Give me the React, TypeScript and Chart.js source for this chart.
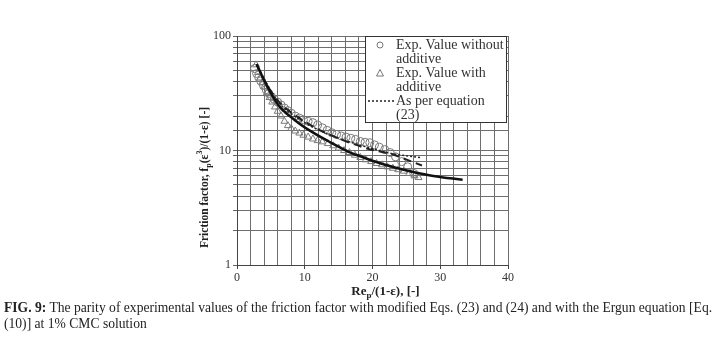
import React, { useEffect, useRef } from "react";
import { Chart, registerables } from "chart.js";

Chart.register(...registerables);

// ---- data ----
const circleX = [2.6, 2.9, 3.2, 3.5, 3.9, 4.3, 4.7, 5.1, 5.5, 6.0, 6.5, 7.0, 7.5, 8.0, 8.6, 9.2, 9.8, 10.5, 11.2, 11.9, 12.6, 13.3, 14.0, 14.7, 15.4, 16.1, 16.8, 17.5, 18.2, 18.9, 19.6, 20.3, 21.0, 21.8, 22.6, 23.4, 24.3, 25.2, 26.1];
const circleY = [52, 47, 43.5, 40.5, 37, 34, 31.5, 29.5, 28, 26.5, 25, 23.5, 22.3, 21.2, 20, 19.2, 18.6, 18, 17.5, 16.7, 15.8, 15.0, 14.3, 13.8, 13.4, 13.1, 12.8, 12.5, 12.0, 11.8, 11.7, 11.2, 10.7, 10.2, 9.6, 8.8, 8.0, 7.2, 6.3];

const triangleX = [2.8, 3.1, 3.4, 3.7, 4.0, 4.4, 4.8, 5.2, 5.6, 6.0, 6.5, 7.0, 7.5, 8.0, 8.6, 9.2, 9.8, 10.5, 11.2, 11.9, 12.6, 13.4, 14.2, 15.0, 15.8, 16.6, 17.4, 18.2, 19.0, 19.8, 20.6, 21.4, 22.2, 23.0, 23.8, 24.6, 25.4, 26.2, 26.8];
const triangleY = [56, 48, 43, 39, 36, 32, 29, 26.5, 24, 22, 20, 18, 16.5, 15.6, 14.8, 14.2, 13.6, 13.1, 12.6, 12.2, 11.9, 11.5, 11.0, 10.5, 10.0, 9.6, 9.1, 8.7, 8.3, 8.0, 7.7, 7.5, 7.2, 7.0, 6.8, 6.6, 6.3, 6.0, 5.8];

const solidX = [2.9, 4.1, 6.1, 8.5, 11, 14, 16.9, 18.2, 20.1, 23.3, 26, 29, 33.3];
const solidY = [57, 40, 25, 18.5, 14.6, 11.6, 9.5, 8.9, 8.1, 7.1, 6.5, 6.0, 5.55];

const dashedX = [2.9, 4, 6.1, 8, 11, 14, 17, 20.3, 22.6, 24.4, 27.3];
const dashedY = [56, 41, 27, 21.5, 16.5, 13.5, 11.5, 10.0, 9.4, 8.6, 7.4];

const dottedX = [2.9, 6, 10, 14, 18, 20, 22.6, 25, 27.3];
const dottedY = [56, 27, 17.5, 13.5, 11.2, 10.4, 9.45, 9.0, 8.66];

const xTickLabels = [0, 10, 20, 30, 40];
const yTickLabels = [1, 10, 100];

const legendRows = [
  ["Exp. Value without", "additive"],
  ["Exp. Value with", "additive"],
  ["As per equation", "(23)"],
];

const captionBold = "FIG. 9:";
const captionText =
  " The parity of experimental values of the friction factor with modified Eqs. (23) and (24) and with the Ergun equation [Eq. (10)] at 1% CMC solution";

const SERIF = '"Liberation Serif", "Times New Roman", serif';

type Seg = { t: string; k: "n" | "sub" | "sup" };

const yTitle: Seg[] = [
  { t: "Friction factor, f", k: "n" },
  { t: "p", k: "sub" },
  { t: "(ε", k: "n" },
  { t: "3", k: "sup" },
  { t: ")/(1-ε) [-]", k: "n" },
];
const xTitle: Seg[] = [
  { t: "Re", k: "n" },
  { t: "p", k: "sub" },
  { t: "/(1-ε), [-]", k: "n" },
];

const pts = (xs: number[], ys: number[]) => xs.map((x, i) => ({ x, y: ys[i] }));

function richWidth(ctx: CanvasRenderingContext2D, segs: Seg[], size: number) {
  let w = 0;
  for (const s of segs) {
    const fs = s.k === "n" ? size : Math.round(size * 0.72);
    ctx.font = `bold ${fs}px ${SERIF}`;
    w += ctx.measureText(s.t).width;
  }
  return w;
}
function richDraw(ctx: CanvasRenderingContext2D, segs: Seg[], size: number, x: number, y: number) {
  let cx = x;
  for (const s of segs) {
    const fs = s.k === "n" ? size : Math.round(size * 0.72);
    ctx.font = `bold ${fs}px ${SERIF}`;
    const dy = s.k === "sub" ? size * 0.3 : s.k === "sup" ? -size * 0.4 : 0;
    ctx.fillText(s.t, cx, y + dy);
    cx += ctx.measureText(s.t).width;
  }
}

const decor = {
  id: "decor",
  afterDraw(chart: any) {
    const ctx: CanvasRenderingContext2D = chart.ctx;
    const ca = chart.chartArea;
    ctx.save();
    ctx.fillStyle = "#222";
    ctx.textBaseline = "middle";
    ctx.textAlign = "left";

    // x title
    const xs = 13;
    const xw = richWidth(ctx, xTitle, xs);
    richDraw(ctx, xTitle, xs, (ca.left + ca.right) / 2 + 13 - xw / 2, ca.bottom + 27);

    // y title (rotated)
    const ys = 11.5;
    const yw = richWidth(ctx, yTitle, ys);
    ctx.save();
    ctx.translate(ca.left - 32, (ca.top + ca.bottom) / 2 + 27);
    ctx.rotate(-Math.PI / 2);
    richDraw(ctx, yTitle, ys, -yw / 2, 0);
    ctx.restore();

    // legend box
    const lw = 141;
    const lh = 86;
    const lx = ca.right - 143;
    const ly = ca.top;
    ctx.fillStyle = "#fff";
    ctx.fillRect(lx, ly, lw, lh);
    ctx.font = `14px ${SERIF}`;
    const tx = lx + 31;
    const mx = lx + 15;
    legendRows.forEach((row, i) => {
      const y0 = ly + 9 + i * 28;
      ctx.fillStyle = "#333";
      ctx.fillText(row[0], tx, y0);
      ctx.fillText(row[1], tx, y0 + 14);
      ctx.strokeStyle = "#777";
      ctx.lineWidth = 1;
      ctx.setLineDash([]);
      if (i === 0) {
        ctx.beginPath();
        ctx.arc(mx, y0, 3, 0, Math.PI * 2);
        ctx.stroke();
      } else if (i === 1) {
        ctx.beginPath();
        ctx.moveTo(mx, y0 - 3.5);
        ctx.lineTo(mx + 3.5, y0 + 3);
        ctx.lineTo(mx - 3.5, y0 + 3);
        ctx.closePath();
        ctx.stroke();
      } else {
        ctx.strokeStyle = "#222";
        ctx.lineWidth = 1.5;
        ctx.setLineDash([2, 2]);
        ctx.beginPath();
        ctx.moveTo(lx + 3, y0);
        ctx.lineTo(lx + 29, y0);
        ctx.stroke();
        ctx.setLineDash([]);
      }
    });
    ctx.strokeStyle = "#333";
    ctx.lineWidth = 1;
    ctx.strokeRect(lx + 0.5, ly + 0.5, lw, lh);
    ctx.restore();
  },
};

export default function App() {
  const ref = useRef<HTMLCanvasElement>(null);

  useEffect(() => {
    if (!ref.current) return;
    const tickFont = { family: SERIF, size: 12 };
    const chart = new Chart(ref.current, {
      type: "scatter",
      data: {
        datasets: [
          {
            label: "Ergun",
            data: pts(solidX, solidY),
            showLine: true,
            borderColor: "#111",
            borderWidth: 2.5,
            pointRadius: 0,
            cubicInterpolationMode: "monotone",
            order: 0,
          } as any,
          {
            label: "Eq. 24",
            data: pts(dashedX, dashedY),
            showLine: true,
            borderColor: "#222",
            borderWidth: 2,
            borderDash: [8, 5],
            pointRadius: 0,
            cubicInterpolationMode: "monotone",
            order: 0,
          },
          {
            label: "As per equation (23)",
            data: pts(dottedX, dottedY),
            showLine: true,
            borderColor: "#222",
            borderWidth: 1.5,
            borderDash: [2, 2],
            pointRadius: 0,
            cubicInterpolationMode: "monotone",
            order: 0,
          },
          {
            label: "Exp. Value without additive",
            data: pts(circleX, circleY),
            pointStyle: "circle",
            pointRadius: 4,
            borderColor: "#7a7a7a",
            borderWidth: 1,
            backgroundColor: "rgba(0,0,0,0)",
            order: 1,
          },
          {
            label: "Exp. Value with additive",
            data: pts(triangleX, triangleY),
            pointStyle: "triangle",
            pointRadius: 4,
            borderColor: "#7a7a7a",
            borderWidth: 1,
            backgroundColor: "rgba(0,0,0,0)",
            order: 1,
          },
        ],
      },
      options: {
        animation: false,
        responsive: false,
        devicePixelRatio: 1,
        layout: { padding: { left: 0, right: 211, top: 36, bottom: 10 } },
        plugins: { legend: { display: false }, tooltip: { enabled: false } },
        scales: {
          x: {
            type: "linear",
            min: 0,
            max: 40,
            ticks: {
              stepSize: 2,
              autoSkip: false,
              maxRotation: 0,
              padding: 2,
              color: "#333",
              font: tickFont,
              callback: (v: any) => (xTickLabels.includes(Number(v)) ? String(v) : ""),
            },
            grid: {
              color: "#6e6e6e",
              lineWidth: 1,
              tickLength: 4,
              tickColor: (c: any) =>
                c.tick && xTickLabels.includes(c.tick.value) ? "#444" : "rgba(0,0,0,0)",
            },
            border: { color: "#444", width: 1 },
            afterFit: (s: any) => {
              s.height = 30;
            },
          },
          y: {
            type: "logarithmic",
            min: 1,
            max: 100,
            ticks: {
              autoSkip: false,
              padding: 2,
              color: "#333",
              font: tickFont,
              callback: (v: any) => (yTickLabels.includes(Number(v)) ? String(v) : ""),
            },
            grid: { color: "#6e6e6e", lineWidth: 1, tickLength: 4, tickColor: "#666" },
            border: { color: "#444", width: 1 },
            afterFit: (s: any) => {
              s.width = 237;
            },
          },
        },
      },
      plugins: [decor],
    } as any);
    return () => chart.destroy();
  }, []);

  return (
    <div
      style={{
        position: "fixed",
        left: 0,
        top: 0,
        width: 719,
        height: 351,
        background: "#fff",
        overflow: "hidden",
      }}
    >
      <canvas ref={ref} width={719} height={305} style={{ display: "block", width: 719, height: 305 }} />
      <div
        style={{
          position: "absolute",
          left: 4,
          top: 300,
          width: 715,
          fontFamily: SERIF,
          fontSize: 13.6,
          lineHeight: "16px",
          color: "#222",
        }}
      >
        <b>{captionBold}</b>
        {captionText}
      </div>
    </div>
  );
}
